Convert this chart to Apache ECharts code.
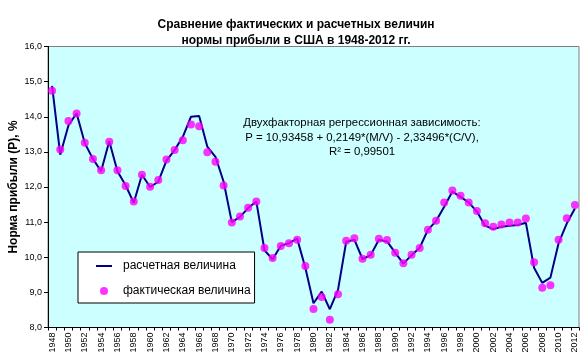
<!DOCTYPE html>
<html>
<head>
<meta charset="utf-8">
<script src="https://cdn.jsdelivr.net/npm/echarts@6/dist/echarts.min.js"></script>
<style>html,body{margin:0;padding:0;background:#fff;}#c{width:583px;height:363px;}</style>
</head>
<body>
<div id="c"></div>
<script>
var years = [];
for (var y = 1948; y <= 2012; y++) years.push(String(y));

var calculated = [14.88,12.92,13.75,14.10,13.25,12.80,12.45,13.30,12.45,12.05,11.55,12.35,12.00,12.15,12.75,13.05,
13.43,14.00,14.02,13.15,12.86,12.15,11.00,11.15,11.40,11.59,10.20,9.94,10.33,10.40,10.53,9.70,
8.69,9.02,8.52,9.07,10.44,10.50,9.95,10.06,10.50,10.45,10.13,9.82,10.06,10.27,10.78,11.03,
11.44,11.87,11.72,11.56,11.30,10.90,10.80,10.87,10.90,10.92,10.98,9.70,9.27,9.42,10.40,10.96,11.39];

var actual = [14.74,13.07,13.88,14.09,13.26,12.80,12.48,13.29,12.48,12.03,11.59,12.35,12.01,12.20,12.78,13.05,
13.33,13.78,13.73,12.99,12.72,12.04,10.99,11.16,11.41,11.59,10.26,9.98,10.32,10.40,10.50,9.75,
8.53,8.87,8.22,8.95,10.47,10.54,9.96,10.07,10.53,10.49,10.13,9.83,10.07,10.26,10.78,11.04,
11.56,11.90,11.75,11.56,11.32,10.97,10.87,10.93,10.99,10.99,11.10,9.86,9.13,9.20,10.50,11.11,11.49];

var titleText = 'Сравнение фактических и расчетных величин\nнормы прибыли в США в 1948-2012 гг.';
var yAxisName = 'Норма прибыли (P), %';
var seriesNames = ['расчетная величина', 'фактическая величина'];
var annotation = 'Двухфакторная регрессионная зависимость:\nP = 10,93458 + 0,2149*(M/V) - 2,33496*(C/V),\nR² = 0,99501';

var FF = '"Liberation Sans", Arial, sans-serif';
var chart = echarts.init(document.getElementById('c'), null, {renderer: 'canvas'});
chart.setOption({
  animation: false,
  backgroundColor: '#ffffff',
  textStyle: {fontFamily: FF},
  title: {
    text: titleText,
    left: 291, top: 12, textAlign: 'center',
    textStyle: {fontSize: 12, fontWeight: 'bold', color: '#000', lineHeight: 16, fontFamily: FF}
  },
  grid: {
    left: 48, right: 4, top: 46.5, bottom: 35.5,
    outerBoundsMode: 'none',
    containLabel: false,
    show: true, backgroundColor: '#CCFFFF', borderColor: '#808080', borderWidth: 1
  },
  legend: {
    orient: 'vertical',
    left: 78, top: 252,
    backgroundColor: '#ffffff', borderColor: '#000000', borderWidth: 1,
    padding: [7, 4, 5, 18],
    itemGap: 11, itemWidth: 16, itemHeight: 8,
    textStyle: {fontSize: 12, color: '#000', padding: [0, 0, 0, 6], lineHeight: 14, fontFamily: FF},
    data: [
      {name: seriesNames[0], icon: 'path://M0,0 L16,0 L16,2 L0,2 Z', itemStyle: {color: '#000080'}},
      {name: seriesNames[1], icon: 'circle', itemStyle: {color: '#FF00FF'}}
    ]
  },
  xAxis: {
    type: 'category',
    data: years,
    boundaryGap: true,
    axisLine: {lineStyle: {color: '#000', width: 1}},
    axisTick: {show: true, interval: 0, alignWithLabel: false, length: 3, lineStyle: {color: '#000'}},
    axisLabel: {interval: 1, rotate: 90, fontSize: 9, color: '#000', margin: 5, fontFamily: FF},
    splitLine: {show: false}
  },
  yAxis: {
    type: 'value',
    min: 8, max: 16, interval: 1,
    name: yAxisName,
    nameLocation: 'middle',
    nameGap: 28,
    nameMoveOverlap: false,
    nameTextStyle: {fontSize: 12, fontWeight: 'bold', color: '#000', fontFamily: FF},
    axisLine: {show: true, lineStyle: {color: '#000', width: 1}},
    axisTick: {show: true, length: 4, lineStyle: {color: '#000'}},
    axisLabel: {fontSize: 9, color: '#000', margin: 6, fontFamily: FF, formatter: function (v) { return v.toFixed(1).replace('.', ','); }},
    splitLine: {show: false}
  },
  graphic: [{
    type: 'text',
    x: 362, y: 116,
    style: {
      text: annotation,
      font: '11.4px "Liberation Sans", Arial, sans-serif',
      fill: '#000',
      textAlign: 'center',
      textVerticalAlign: 'top',
      lineHeight: 14.5
    }
  }],
  series: [
    {
      name: seriesNames[0],
      type: 'line',
      data: calculated,
      symbol: 'none',
      lineStyle: {color: '#000080', width: 2},
      itemStyle: {color: '#000080'},
      z: 2
    },
    {
      name: seriesNames[1],
      type: 'scatter',
      data: actual,
      symbol: 'circle',
      symbolSize: 8,
      itemStyle: {color: '#FF00FF'},
      z: 3
    }
  ]
});
</script>
</body>
</html>
